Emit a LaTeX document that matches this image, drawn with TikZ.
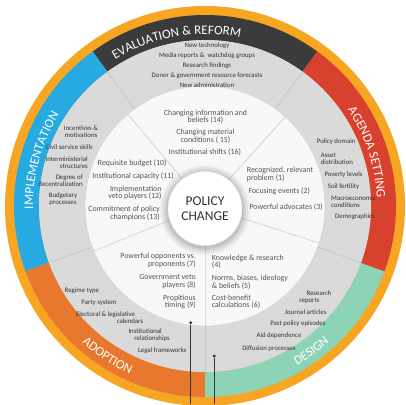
\documentclass[tikz,border=0pt]{standalone}
\usepackage{fontspec}
\setmainfont{Carlito}
\usetikzlibrary{decorations.text}
\definecolor{ringor}{HTML}{F6A623}
\definecolor{evalc}{HTML}{3B3B3B}
\definecolor{implc}{HTML}{27AAE1}
\definecolor{adopc}{HTML}{E8782E}
\definecolor{desc}{HTML}{8DD3B6}
\definecolor{agenc}{HTML}{D9412F}
\definecolor{bandg}{HTML}{DADADA}
\definecolor{diskc}{HTML}{F8F8F8}
\definecolor{txt}{HTML}{333333}
\definecolor{itxt}{HTML}{555555}
\newcommand\titlef{\fontsize{13}{13}\selectfont\color{white}}
\newcommand\annsec[3]{\fill[#1] (#2:191) arc[start angle=#2, end angle=#3, radius=191] -- (#3:166) arc[start angle=#3, end angle=#2, radius=166] -- cycle;}
\begin{document}
\begin{tikzpicture}[x=1pt,y=1pt,
  lst/.style={font=\fontsize{6.8}{7}\selectfont, text=txt, inner sep=0pt},
  inr/.style={font=\fontsize{7.9}{7.5}\selectfont, text=itxt, inner sep=0pt},
  gdiv/.style={draw=black!22, line width=0.8pt},
  wdiv/.style={draw=black!14, line width=1pt},
  dotnode/.style={circle, fill=txt, inner sep=0pt, minimum size=3.2pt},
  leader/.style={draw=txt, line width=0.7pt}]
\useasboundingbox (-205,-198) rectangle (201,206);
% outer ring
\fill[ringor] (0,0) circle[radius=200];
% coloured section bands
\annsec{evalc}{54}{126}
\annsec{implc}{126}{200}
\annsec{adopc}{200}{270}
\annsec{desc}{270}{340}
\annsec{agenc}{340}{414}
% grey band
\fill[bandg] (0,0) circle[radius=166];
\foreach \a in {54,126,200,270,340} \draw[gdiv] (\a:120) -- (\a:166);
% inner disk
\fill[diskc] (0,0) circle[radius=120];
\draw[black!16, line width=0.7pt] (0,0) circle[radius=120];
\foreach \a in {48,130,202,270,342} \draw[wdiv] (\a:36) -- (\a:120);
% hub shadow and hub
\foreach \r/\o in {45/0.04, 43/0.05, 41/0.06, 39/0.08} \fill[black, opacity=\o] (0,-4) circle[radius=\r];
\node[circle, fill=white, draw=black!10, minimum size=74pt, inner sep=0pt, align=center,
      font=\fontsize{13.5}{15}\selectfont, text=txt] (hub) at (0,-2.5) {POLICY\\CHANGE};
% titles (left aligned from their start angle)
\path[decorate, decoration={text along path, text format delimiters={|}{|},
  text={|\titlef|EVALUATION {\&} REFORM}}] (121.5:172) arc[start angle=121.5, end angle=30, radius=172];
\path[decorate, decoration={text along path, text format delimiters={|}{|},
  text={|\titlef|IMPLEMENTATION}}] (181:172) arc[start angle=181, end angle=120, radius=172];
\path[decorate, decoration={text along path, text format delimiters={|}{|},
  text={|\titlef|AGENDA SETTING}}] (34:172) arc[start angle=34, end angle=-30, radius=172];
\path[decorate, decoration={text along path, text format delimiters={|}{|},
  text={|\titlef|DESIGN}}] (-60:184) arc[start angle=-60, end angle=-20, radius=184];
\path[decorate, decoration={text along path, text format delimiters={|}{|},
  text={|\titlef|ADOPTION}}] (228:184) arc[start angle=228, end angle=268, radius=184];
% evaluation list
\node[lst, align=center, font=\fontsize{6.8}{10}\selectfont] (evl) at (2,141)
  {New technology\\Media reports \&\ \ watchdog groups\\Research findings\\Donor \& government resource forecasts\\New administration};
% implementation list
\node[lst, align=center] (im1) at (-124,74) {Incentives \&\\motivations};
\node[lst, anchor=east] (im2) at (-112,59) {Civil service skills};
\node[lst, align=right, anchor=east] (im3) at (-117,43.5) {Interministerial\\structures};
\node[lst, align=right, anchor=east] (im4) at (-122,25.5) {Degree of\\decentralization};
\node[lst, align=center] (im5) at (-142,7) {Budgetary\\processes};
% agenda list
\node[lst, anchor=west] (ag1) at (111.7,64.3) {Policy domain};
\node[lst, anchor=west, align=left] (ag2) at (115.7,47) {Asset\\distribution};
\node[lst, anchor=west] (ag3) at (119.3,31) {Poverty levels};
\node[lst, anchor=west] (ag4) at (122.7,19.3) {Soil fertility};
\node[lst, anchor=west, align=left] (ag5) at (126,4) {Macroeconomic\\conditions};
\node[lst, anchor=west] (ag6) at (130,-10.7) {Demographics};
% adoption list
\node[lst, anchor=east] (ad1) at (-105.7,-84.7) {Regime type};
\node[lst, anchor=east] (ad2) at (-88.3,-96.7) {Party system};
\node[lst, anchor=east, align=right] (ad3) at (-61.7,-111.5) {Electoral \& legislative\rule{8pt}{0pt}\\calendars};
\node[lst, anchor=east, align=right] (ad4) at (-35,-129.5) {Institutional\rule{8pt}{0pt}\\relationships};
\node[lst, anchor=east] (ad5) at (-18.3,-145) {Legal frameworks};
% design list
\node[lst, anchor=east, align=right] (de1) at (126.7,-90.7) {Research\\reports\rule{12pt}{0pt}};
\node[lst, anchor=east] (de2) at (121.7,-105.7) {Journal articles};
\node[lst, anchor=east] (de3) at (120.7,-117.3) {Past policy episodes};
\node[lst, anchor=east] (de4) at (96.7,-130) {Aid dependence};
\node[lst, anchor=east] (de5) at (90.7,-142.3) {Diffusion processes};
% inner factors
\node[inr, align=center] (t1) at (0.5,89) {Changing information and\\beliefs (14)};
\node[inr, align=center] (t2) at (0.5,69.5) {Changing material\\conditions ( 15)};
\node[inr] (t3) at (0,54) {Institutional shifts (16)};
\node[inr, anchor=west, align=left] (r1) at (41.7,31.8) {Recognized, relevant\\problem (1)};
\node[inr, anchor=west] (r2) at (43.3,14.3) {Focusing events (2)};
\node[inr, anchor=west] (r3) at (44.3,-0.7) {Powerful advocates (3)};
\node[inr, anchor=east] (l1) at (-38.3,42.5) {Requisite budget (10)};
\node[inr, anchor=east] (l2) at (-31,29.3) {Institutional capacity (11)};
\node[inr, anchor=east, align=right] (l3) at (-43.3,13) {Implementation\\veto players (12)};
\node[inr, anchor=east, align=right] (l4) at (-45,-7.3) {Commitment of policy\\champions (13)};
\node[inr, anchor=east, align=right] (b1) at (-9,-54.5) {Powerful opponents vs.\\proponents (7)};
\node[inr, anchor=east, align=right] (b2) at (-9,-75.5) {Government veto\\players (8)};
\node[inr, anchor=east, align=right] (b3) at (-9,-96) {Propitious\\timing (9)};
\node[inr, anchor=west, align=left] (g1) at (6.7,-56) {Knowledge \& research\\(4)};
\node[inr, anchor=west, align=left] (g2) at (6.7,-76.2) {Norms, biases, ideology\\\& beliefs (5)};
\node[inr, anchor=west, align=left] (g3) at (6.7,-95.7) {Cost-benefit\\calculations (6)};
% leader dots
\node[dotnode] (d1) at (-14.3,-116.7) {};
\coordinate (e1) at (-14.3,-198);
\draw[leader] (d1) -- (e1);
\node[dotnode] (d2) at (9.3,-150) {};
\coordinate (e2) at (9.3,-198);
\draw[leader] (d2) -- (e2);
\end{tikzpicture}
\end{document}
